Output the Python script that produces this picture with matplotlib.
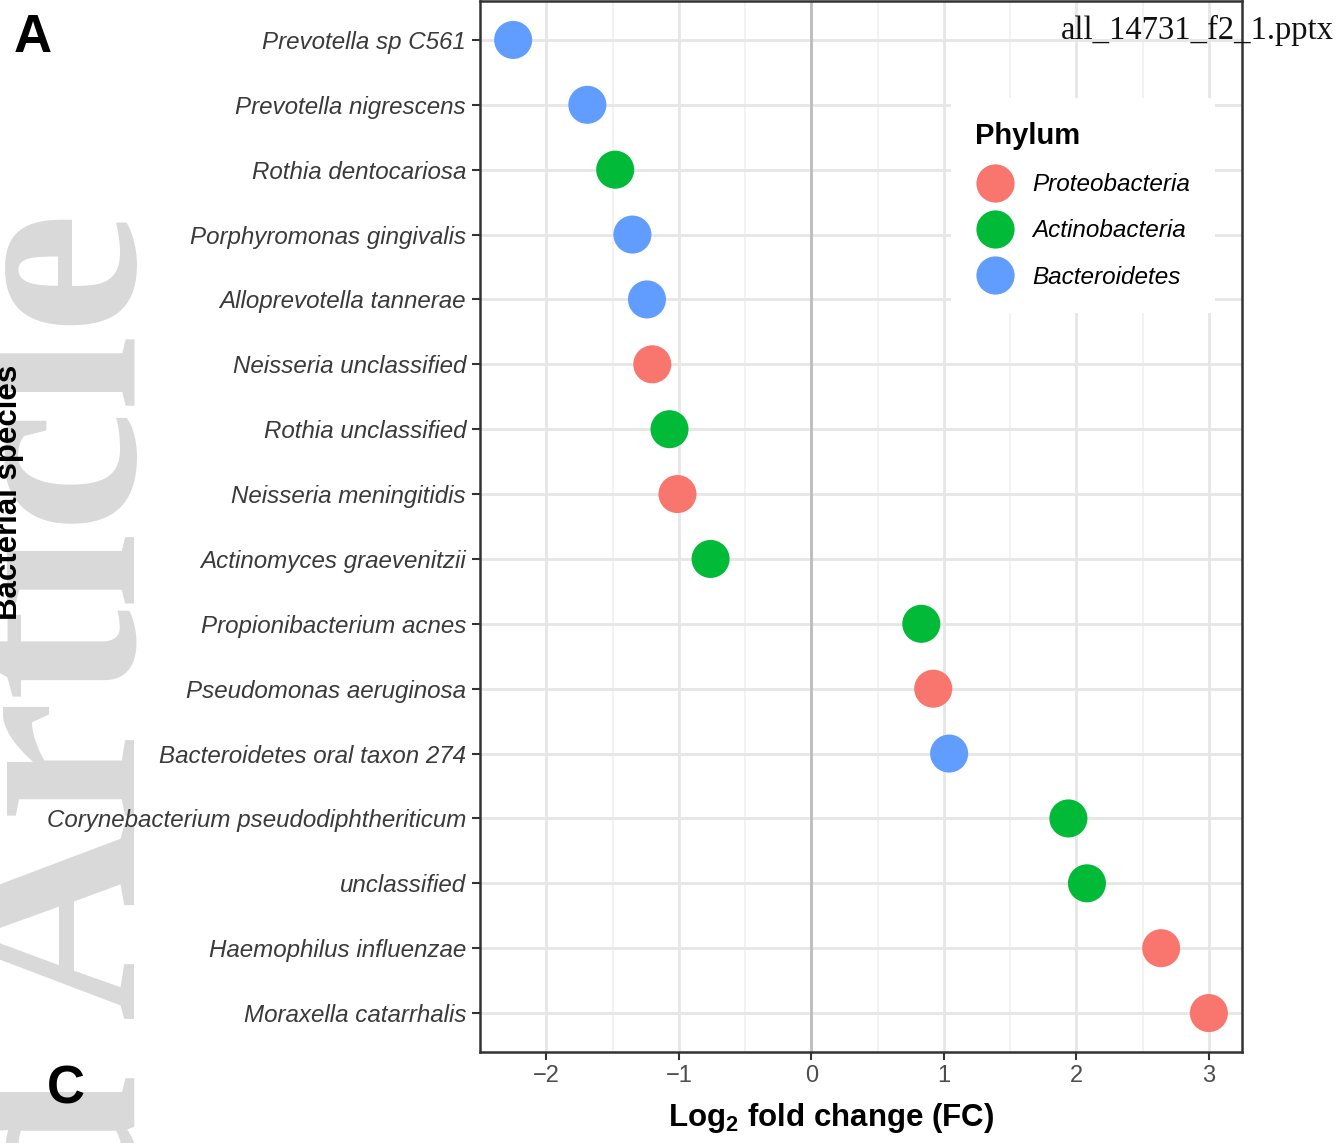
import numpy as np
import matplotlib
matplotlib.use("Agg")
import matplotlib.pyplot as plt
from matplotlib.lines import Line2D

# data (top to bottom as in the figure)
species = ["Prevotella sp C561", "Prevotella nigrescens", "Rothia dentocariosa",
           "Porphyromonas gingivalis", "Alloprevotella tannerae", "Neisseria unclassified",
           "Rothia unclassified", "Neisseria meningitidis", "Actinomyces graevenitzii",
           "Propionibacterium acnes", "Pseudomonas aeruginosa", "Bacteroidetes oral taxon 274",
           "Corynebacterium pseudodiphtheriticum", "unclassified", "Haemophilus influenzae",
           "Moraxella catarrhalis"]
log2fc = [-2.25, -1.69, -1.48, -1.35, -1.24, -1.20, -1.07, -1.01, -0.76,
          0.83, 0.92, 1.04, 1.94, 2.08, 2.64, 3.00]
phylum = ["Bacteroidetes", "Bacteroidetes", "Actinobacteria", "Bacteroidetes", "Bacteroidetes",
          "Proteobacteria", "Actinobacteria", "Proteobacteria", "Actinobacteria",
          "Actinobacteria", "Proteobacteria", "Bacteroidetes", "Actinobacteria",
          "Actinobacteria", "Proteobacteria", "Proteobacteria"]
phyla = ["Proteobacteria", "Actinobacteria", "Bacteroidetes"]
colors = {"Proteobacteria": "#F8766D", "Actinobacteria": "#00BA38", "Bacteroidetes": "#619CFF"}

plt.rcParams["mathtext.fontset"] = "custom"
plt.rcParams["mathtext.rm"] = "Liberation Sans"
plt.rcParams["mathtext.bf"] = "Liberation Sans:bold"

W, H = 1337, 1143
fig = plt.figure(figsize=(W / 100, H / 100), dpi=100)
ax = fig.add_axes([480 / W, 1 - 1052 / H, (1242 - 480) / W, (1052 - 1) / H])

# watermark
fig.text(135 / W, 1 - 212 / H, "Accepted Article", rotation=90, rotation_mode="anchor",
         ha="right", va="baseline", fontsize=198, family="Liberation Serif", fontweight="bold",
         color="#d9d9d9", zorder=-5)

ypos = np.arange(len(species))
ax.scatter(log2fc, ypos, s=750, c=[colors[p] for p in phylum], linewidths=0, zorder=3)

ax.set_xlim(-2.5, 3.25)
ax.set_ylim(len(species) - 0.4, -0.6)
ax.set_xticks([-2, -1, 0, 1, 2, 3])
ax.set_xticklabels(["\u22122", "\u22121", "0", "1", "2", "3"])
ax.set_xticks([-1.5, -0.5, 0.5, 1.5, 2.5], minor=True)
ax.set_yticks(ypos)
ax.set_yticklabels(species, fontstyle="italic", family="Liberation Sans", fontsize=17.4, color="#3a3a3a")
ax.tick_params(axis="x", which="major", labelsize=17, labelcolor="#4d4d4d", length=6, width=1.5,
               color="#333333", pad=3)
ax.tick_params(axis="y", which="major", length=6, width=1.5, color="#333333", pad=4)
ax.tick_params(which="minor", length=0)
for lab in ax.get_xticklabels():
    lab.set_family("Liberation Sans")

ax.grid(True, which="major", color="#e6e6e6", linewidth=2, zorder=0)
ax.grid(True, which="minor", axis="x", color="#f0f0f0", linewidth=1.2, zorder=0)
ax.set_axisbelow(True)
ax.axvline(0, color="#bdbdbd", linewidth=2, zorder=1)
for sp in ax.spines.values():
    sp.set_color("#333333")
    sp.set_linewidth(1.8)

handles = [Line2D([], [], marker="o", linestyle="none", markersize=27.5,
                  markerfacecolor=colors[p], markeredgewidth=0) for p in phyla]
leg = ax.legend(handles, phyla, title="Phylum", loc="upper left",
                bbox_to_anchor=((951 - 480) / 762, 1 - 97 / 1051),
                frameon=True, fancybox=False, edgecolor="none", facecolor="white", framealpha=1,
                prop={"family": "Liberation Sans", "style": "italic", "size": 17.5},
                title_fontproperties={"family": "Liberation Sans", "weight": "bold", "size": 21},
                alignment="left", labelspacing=0.95, handletextpad=0.75, borderpad=1.0,
                handlelength=1.6, borderaxespad=0)
leg.set_zorder(5)

# labels and panel letters
fig.text(831 / W, 1 - 1118 / H, r"Log$_\mathbf{2}$ fold change (FC)", ha="center", va="center",
         fontsize=22.5, fontweight="bold", family="Liberation Sans")
fig.text(17 / W, 1 - 492 / H, "Bacterial species", rotation=90, rotation_mode="anchor",
         ha="center", va="baseline", fontsize=22.5, fontweight="bold",
         family="Liberation Sans")
fig.text(14 / W, 1 - 38 / H, "A", ha="left", va="center", fontsize=38, fontweight="bold",
         family="Liberation Sans")
fig.text(47 / W, 1 - 1090 / H, "C", ha="left", va="center", fontsize=38, fontweight="bold",
         family="Liberation Sans")
fig.text(1334 / W, 1 - 30 / H, "all_14731_f2_1.pptx", ha="right", va="center", fontsize=23.5,
         family="Liberation Serif", color="#111111", zorder=10)

fig.savefig("out.png", dpi=100)
